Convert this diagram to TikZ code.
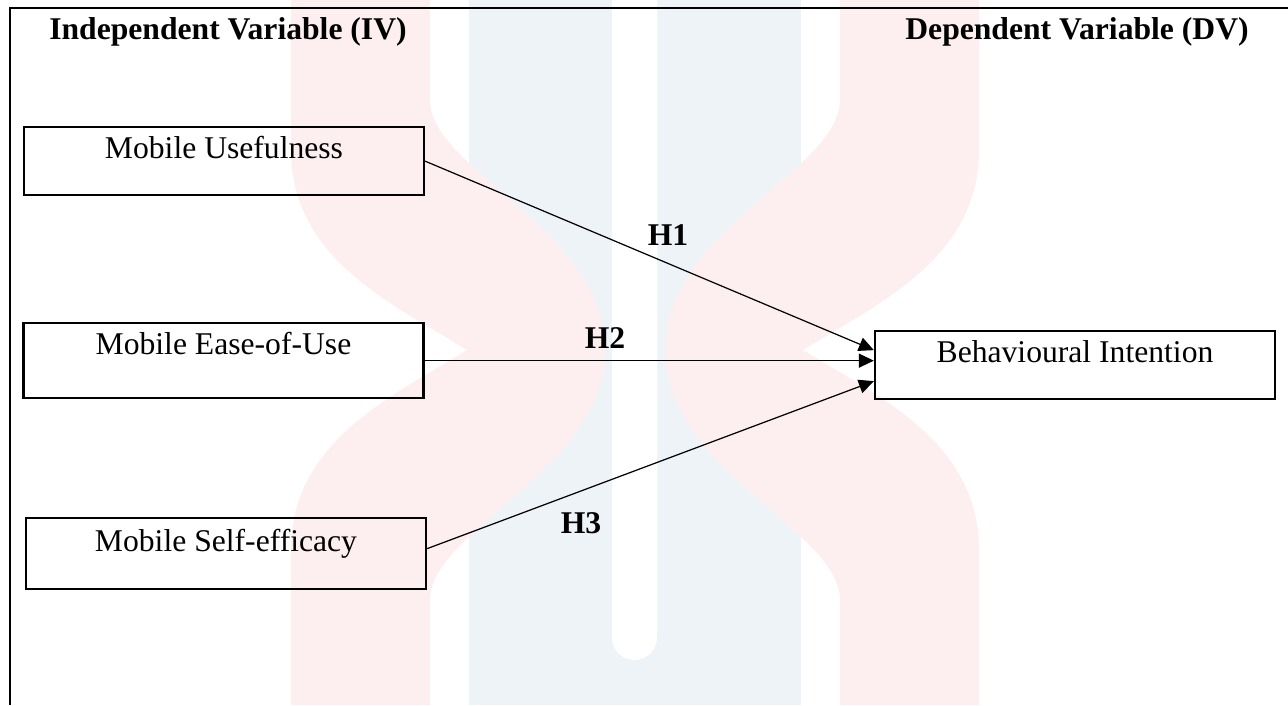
\documentclass[tikz,border=0pt]{standalone}
\usepackage{fontspec}
\setmainfont{Liberation Serif}
\usetikzlibrary{arrows.meta}
\definecolor{wmPink}{RGB}{253,239,239}
\definecolor{wmBlue}{RGB}{238,243,248}
\pgfmathsetmacro{\BoxWidth}{8}
\tikzset{
  varbox/.style={draw, line width=1.3pt, inner sep=0pt, anchor=north,
    minimum width=\BoxWidth cm, text height=0.62cm, text depth=0.74cm,
    font=\fontsize{18}{22}\selectfont},
  hyp/.style={-{Triangle[length=0.3cm,width=0.28cm]}, line width=0.7pt},
  hlabel/.style={anchor=base, font=\fontsize{18}{22}\selectfont\bfseries},
}

\begin{document}
\begin{tikzpicture}
    \useasboundingbox (0,0) rectangle (25.76,-14.1);

    % watermark behind the model
    \fill[wmBlue] (9.38,0) rectangle (16.02,-14.1);
    \fill[wmPink] (5.82,0) -- (5.82,-3) .. controls (5.82,-5.2) and (7.9,-6.1) .. (9.34,-7)
        .. controls (7.9,-7.9) and (5.82,-8.8) .. (5.82,-11) -- (5.82,-14.1) -- (8.6,-14.1)
        -- (8.6,-12) .. controls (8.6,-10.6) and (12.1,-9.4) .. (12.1,-7)
        .. controls (12.1,-4.6) and (8.6,-3.4) .. (8.6,-2) -- (8.6,0) -- cycle;
    \fill[wmPink] (19.58,0) -- (19.58,-3) .. controls (19.58,-5.2) and (17.5,-6.1) .. (16.06,-7)
        .. controls (17.5,-7.9) and (19.58,-8.8) .. (19.58,-11) -- (19.58,-14.1) -- (16.8,-14.1)
        -- (16.8,-12) .. controls (16.8,-10.6) and (13.3,-9.4) .. (13.3,-7)
        .. controls (13.3,-4.6) and (16.8,-3.4) .. (16.8,-2) -- (16.8,0) -- cycle;
    \fill[white] (12.24,0) -- (12.24,-12.75) arc (180:360:0.45) -- (13.14,0) -- cycle;
    % \fill[white,rounded corners=0.45cm] (12.24,0.5) rectangle (13.14,-13.2);

    \draw[line width=1.6pt] (0.2,-14.1) -- (0.2,-0.16) -- (25.76,-0.16);

    \node[hlabel] (iv) at (4.56,-0.78) {Independent Variable (IV)};
    \node[hlabel] (dv) at (21.54,-0.78) {Dependent Variable (DV)};

    \node[varbox] (MU) at (4.48,-2.52) {Mobile Usefulness};
    \node[varbox, text depth=0.88cm] (MEU) at (4.47,-6.44) {Mobile Ease-of-Use};
    \node[varbox, text height=0.66cm, text depth=0.76cm] (MSE) at (4.52,-10.34) {Mobile Self-efficacy};
    \node[varbox] (BI) at (21.5,-6.6) {Behavioural Intention};

    \draw[hyp] (MU.east) -- ([yshift=0.3cm]BI.west);
    \draw[hyp] (MEU.east) -- (MEU.east -| BI.west);
    \draw[hyp] ([yshift=0.1cm]MSE.east) -- ([yshift=-0.32cm]BI.west);

    \node[hlabel] (h1) at (13.36,-4.9) {H1};
    \node[hlabel] (h2) at (12.1,-6.96) {H2};
    \node[hlabel] (h3) at (11.62,-10.66) {H3};
\end{tikzpicture}
\end{document}
